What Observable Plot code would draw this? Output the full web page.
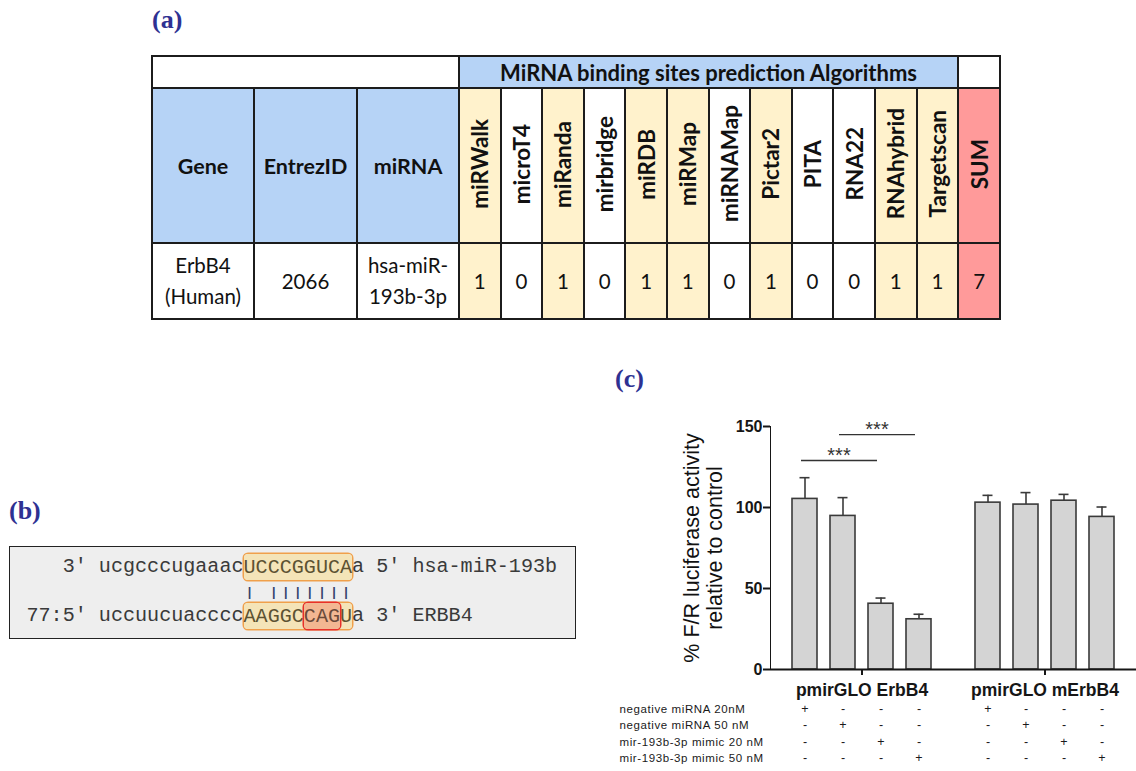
<!DOCTYPE html>
<html>
<head>
<meta charset="utf-8">
<script src="https://cdn.jsdelivr.net/npm/d3@7"></script>
<script src="https://cdn.jsdelivr.net/npm/@observablehq/plot@0.6"></script>
<style>
  html, body { margin: 0; padding: 0; background: #fff; }
  body { position: relative; width: 1136px; height: 771px; overflow: hidden; }
  .panel { position: absolute; margin: 0; font-family: "Liberation Serif", "DejaVu Serif", serif; font-weight: bold; font-size: 26px; line-height: 1; color: #2e3192; }
  #pa { left: 152px; top: 7px; }
  #pb { left: 9px; top: 498px; }
  #pc { left: 615px; top: 366px; }

  #tbl { position: absolute; left: 151px; top: 55px; border-collapse: collapse; table-layout: fixed; font-family: Lato, "Open Sans", sans-serif; color: #111; }
  #tbl td { border: 2px solid #1c1c1c; padding: 0; text-align: center; vertical-align: middle; overflow: hidden; }
  #tbl .title { background: #b6d3f6; font-weight: bold; font-size: 22px; }
  #tbl .key { background: #b6d3f6; font-weight: bold; font-size: 21.5px; }
  #tbl .vert { display: inline-block; writing-mode: vertical-rl; transform: rotate(180deg); font-weight: bold; font-size: 22.5px; white-space: nowrap; }
  #tbl .val { font-size: 20.5px; line-height: 31px; }
  #tbl .hit { background: #fff2cc; }
  #tbl .sum { background: #ff9a9a; }

  #seq { position: absolute; left: 9px; top: 546px; width: 567px; height: 93px; box-sizing: border-box; border: 1.5px solid #222; background: #eeeeee; padding: 8.25px 0 0 16.5px; font-family: "Liberation Mono", "DejaVu Sans Mono", monospace; font-size: 20.1px; line-height: 24.5px; color: #3a3a3a; white-space: pre; }
  #seq .site { background: #f4e4b8; box-shadow: 0 0 0 1.5px #f0a04b; border-radius: 4px; padding: 1.6px 0; color: #5c5232; }
  #seq .seed { background: #f3b792; box-shadow: 0 0 0 1.5px #e8302a; border-radius: 4px; padding: 1.6px 0; color: #6a4a3a; }
  #seq .bars { display: inline-block; color: #34426c; transform: scaleY(0.6); transform-origin: 50% 55%; }

  #chart { position: absolute; left: 610px; top: 400px; }
  #chart g[aria-label^="y-axis"] line, #chart g[aria-label^="y-axis"] path,
  #chart g[aria-label^="fx-axis"] line, #chart g[aria-label^="fx-axis"] path { stroke-width: 2px; }
</style>
</head>
<body>
<div class="panel" id="pa">(a)</div>
<div class="panel" id="pb">(b)</div>
<div class="panel" id="pc">(c)</div>
<table id="tbl"></table>
<div id="seq"></div>
<div id="chart"></div>
<script>
// ---------- (a) prediction table ----------
const tableTitle = "MiRNA binding sites prediction Algorithms";
const keyHeaders = ["Gene", "EntrezID", "miRNA"];
const keyValues = [["ErbB4", "(Human)"], ["2066"], ["hsa-miR-", "193b-3p"]];
const algorithms = ["miRWalk", "microT4", "miRanda", "mirbridge", "miRDB", "miRMap", "miRNAMap", "Pictar2", "PITA", "RNA22", "RNAhybrid", "Targetscan"];
const predicted = [1, 0, 1, 0, 1, 1, 0, 1, 0, 0, 1, 1];
const sumLabel = "SUM";

// ---------- (b) duplex ----------
const mirnaLine = ["   3' ", "ucgcccugaaac", "UCCCGGUCA", "", "", "a 5' hsa-miR-193b"];
const pairLine = "                  | |||||||";
const targetLine = ["77:5' ", "uccuucuacccc", "AAGGC", "CAG", "U", "a 3' ERBB4"];

// ---------- (c) luciferase assay ----------
const constructs = ["pmirGLO ErbB4", "pmirGLO mErbB4"];
const treatments = ["negative miRNA 20nM", "negative miRNA 50 nM", "mir-193b-3p mimic 20 nM", "mir-193b-3p mimic 50 nM"];
const meanWT = [105.3, 94.8, 40.6, 31.0];
const semWT = [13.1, 11.3, 3.5, 3.1];
const meanMut = [103.0, 101.8, 104.2, 94.2];
const semMut = [4.5, 7.4, 3.9, 6.1];
const design = [[1, 0, 0, 0], [0, 1, 0, 0], [0, 0, 1, 0], [0, 0, 0, 1]];
const sigFrom = [treatments[0], treatments[1]];
const sigTo = [treatments[2], treatments[3]];
const sigMid = [treatments[1], treatments[2]];
const sigLevel = [129, 145];
const sigText = ["***", "***"];
const yTicks = [0, 50, 100, 150];
const yLabel = "% F/R luciferase activity\nrelative to control";

// table
{
  const colW = [102, 103, 102, ...algorithms.map(() => 41.6), 42];
  let h = "<colgroup>" + colW.map(w => `<col style="width:${w}px">`).join("") + "</colgroup>";
  h += `<tr style="height:32px"><td colspan="3"></td><td colspan="${algorithms.length}" class="title">${tableTitle}</td><td></td></tr>`;
  h += `<tr style="height:155px">` + keyHeaders.map(k => `<td class="key">${k}</td>`).join("")
    + algorithms.map((a, i) => `<td class="${predicted[i] ? "hit" : ""}"><span class="vert">${a}</span></td>`).join("")
    + `<td class="sum"><span class="vert">${sumLabel}</span></td></tr>`;
  h += `<tr style="height:76px">` + keyValues.map(v => `<td class="val">${v.join("<br>")}</td>`).join("")
    + predicted.map(p => `<td class="val ${p ? "hit" : ""}">${p}</td>`).join("")
    + `<td class="val sum">${d3.sum(predicted)}</td></tr>`;
  document.getElementById("tbl").innerHTML = h;
}

// duplex
{
  const line = parts => parts[0] + parts[1]
    + `<span class="site">${parts[2]}${parts[3] ? `<span class="seed">${parts[3]}</span>` : ""}${parts[4]}</span>`
    + parts[5];
  const [, lead, bars] = pairLine.match(/^(\s*)(.*)$/);
  document.getElementById("seq").innerHTML =
    `<div>${line(mirnaLine)}</div><div>${lead}<span class="bars">${bars}</span></div><div>${line(targetLine)}</div>`;
}

// bar chart
{
  const means = [meanWT, meanMut];
  const sems = [semWT, semMut];
  const bars = constructs.flatMap((c, ci) => treatments.map((t, ti) => ({construct: c, treatment: t, mean: means[ci][ti], sem: sems[ci][ti]})));
  const signs = constructs.flatMap(c => treatments.flatMap((row, ri) => treatments.map((t, bi) => ({construct: c, row, treatment: t, sign: design[ri][bi] ? "+" : "-"}))));
  const sig = sigFrom.map((f, i) => ({construct: constructs[0], from: f, to: sigTo[i], mid: sigMid[i], y: sigLevel[i], label: sigText[i]}));

  const ink = "#3a3a3a";
  const chart = Plot.plot({
    width: 526,
    height: 371,
    marginLeft: 159,
    marginRight: 0,
    marginTop: 26,
    marginBottom: 102,
    style: {fontFamily: "'Liberation Sans', Arial, sans-serif", fontSize: "16px", fontWeight: "bold", color: "#161616", background: "transparent", overflow: "visible"},
    fx: {domain: constructs, paddingInner: 0, paddingOuter: 0, axis: "bottom", label: null, tickSize: 6, tickPadding: 8},
    x: {domain: treatments, paddingInner: 0.33, paddingOuter: 0.535, axis: null},
    y: {domain: [0, 150], ticks: yTicks, tickSize: 7, tickPadding: 1, line: true, label: null},
    marks: [
      Plot.barY(bars, {fx: "construct", x: "treatment", y: "mean", fill: "#d4d4d4", stroke: ink, strokeWidth: 1.6}),
      Plot.ruleX(bars, {fx: "construct", x: "treatment", y1: "mean", y2: d => d.mean + d.sem, stroke: ink, strokeWidth: 1.6}),
      Plot.tickY(bars, {fx: "construct", x: "treatment", y: d => d.mean + d.sem, insetLeft: 7.5, insetRight: 7.5, stroke: ink, strokeWidth: 1.6}),
      Plot.ruleY([0], {stroke: "#161616", strokeWidth: 2.2}),
      Plot.link(sig, {fx: "construct", x1: "from", x2: "to", y1: "y", y2: "y", dx: -4, stroke: "#333", strokeWidth: 1.4}),
      Plot.text(sig, {fx: "construct", x: "mid", y: "y", text: "label", dx: -4, dy: -5, fontSize: 20, fontWeight: "normal", fill: "#333"}),
      ...treatments.map((row, r) => Plot.text(signs.filter(d => d.row === row), {
        fx: "construct", x: "treatment", text: "sign", frameAnchor: "bottom", dy: 43 + r * 16.5, fontSize: 12.5, fontWeight: "normal", fill: "#1a1a1a"
      })),
      ...treatments.map((row, r) => Plot.text([row], {
        fx: () => constructs[0], text: d => d, frameAnchor: "bottom-left", textAnchor: "start", dx: -151, dy: 43 + r * 16.5, fontSize: 11.5, fontWeight: "normal", fill: "#1a1a1a"
      })),
      Plot.text([yLabel], {fx: () => constructs[0], text: d => d, frameAnchor: "left", textAnchor: "middle", lineAnchor: "middle", rotate: -90, dx: -67, fontSize: 21.5, fontWeight: "normal", lineHeight: 1.07, fill: "#111"})
    ]
  });
  document.getElementById("chart").appendChild(chart);
  const svg = d3.select(chart.tagName.toLowerCase() === "svg" ? chart : chart.querySelector("svg"));
  svg.selectAll("text").filter(function () { return constructs.includes(this.textContent); }).attr("font-size", "17.5px");
  svg.selectAll("text").filter(function () { return treatments.includes(this.textContent); }).attr("letter-spacing", "0.6px");
}
</script>
</body>
</html>
